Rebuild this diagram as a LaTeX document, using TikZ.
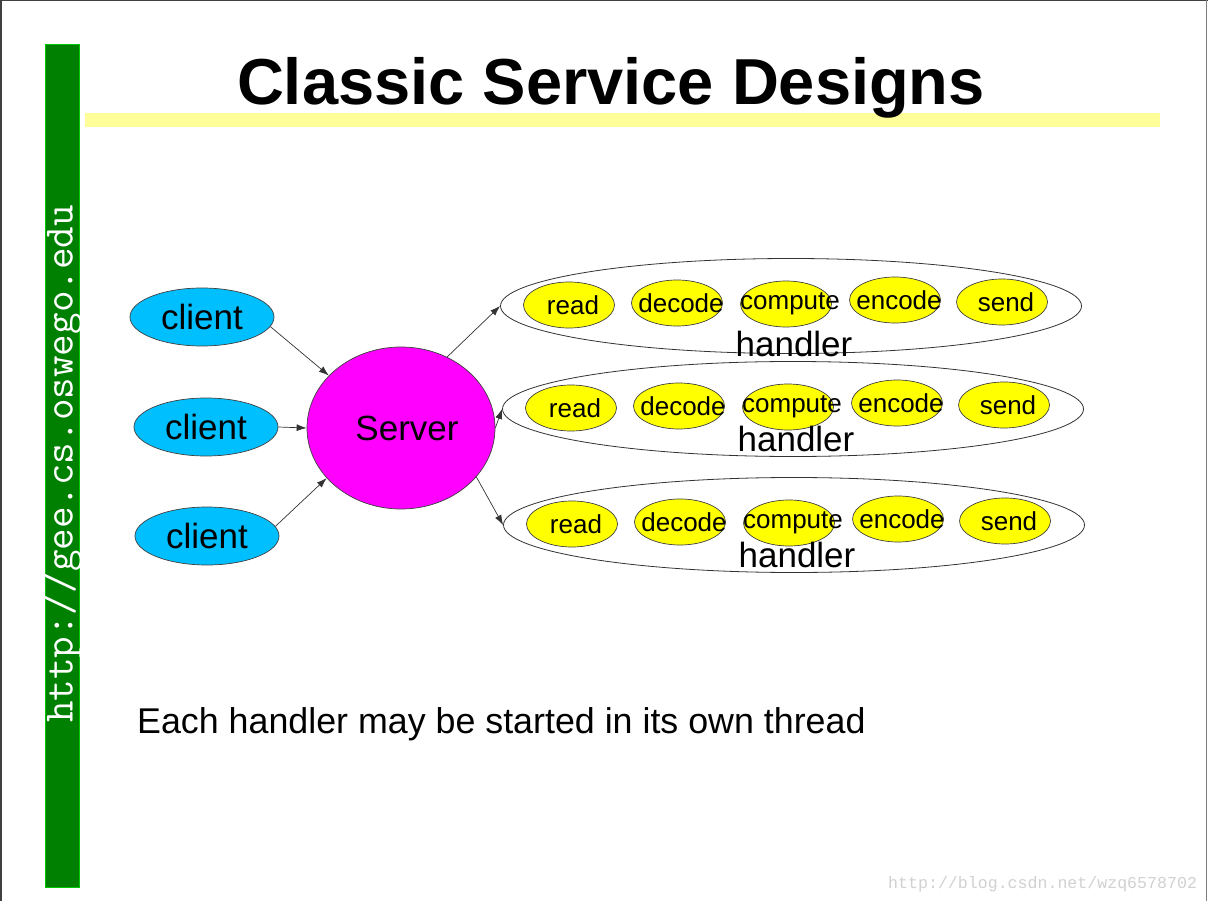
\documentclass[tikz,border=0pt]{standalone}
\usepackage{fontspec}
\setmainfont{Liberation Sans}
\newfontfamily\urlfont{Liberation Mono}
\usetikzlibrary{shapes.geometric,arrows.meta}

\definecolor{clientblue}{RGB}{0,191,255}
\definecolor{servermagenta}{RGB}{255,0,255}
\definecolor{stageyellow}{RGB}{255,255,0}
\definecolor{baryellow}{RGB}{255,255,153}
\definecolor{slidegreen}{RGB}{0,128,0}
\definecolor{edgegreen}{RGB}{0,200,0}

\tikzset{
  client/.style={ellipse, draw=black!75, line width=0.7pt, fill=clientblue,
    minimum width=144pt, minimum height=58pt, inner sep=0pt,
    font=\fontsize{35}{40}\selectfont},
  server/.style={ellipse, draw=black!75, line width=0.7pt, fill=servermagenta,
    minimum width=188pt, minimum height=162pt, inner sep=0pt,
    font=\fontsize{35}{40}\selectfont},
  handler/.style={ellipse, draw=black!80, line width=0.8pt, fill=white,
    minimum width=581pt, minimum height=95pt, inner sep=0pt},
  stage/.style={ellipse, draw=black!75, line width=0.7pt, fill=stageyellow,
    minimum width=91pt, minimum height=46pt, inner sep=0pt,
    font=\fontsize{26}{30}\selectfont},
  flow/.style={draw=black!80, line width=0.7pt, -{Latex[length=10pt,width=7pt]}}
}

\begin{document}
\begin{tikzpicture}[x=1pt,y=-1pt]
  % slide frame
  \useasboundingbox (0,0) rectangle (1208,901);
  \fill[white] (0,0) rectangle (1208,901);
  \fill[black!75] (0,0) rectangle (2,901);
  \fill[black!75] (0,0) rectangle (1208,1.5);
  \fill[black!50] (1205.5,0) rectangle (1207,901);

  % side bar with the url
  \filldraw[fill=slidegreen, draw=edgegreen, line width=1pt] (45.5,44.5) rectangle (79.5,887.5);
  \node[rotate=90, text=white, inner sep=0pt, font=\ttfamily\fontsize{41.9}{44}\selectfont] (url) at (63,464) {http://gee.cs.oswego.edu};

  % title
  \fill[baryellow] (85,113) rectangle (1160,127);
  \node[anchor=base, inner sep=0pt, font=\bfseries\fontsize{65}{70}\selectfont] (title) at (611,105) {Classic Service Designs};

  % clients and server
  \node[client] (c1) at (202,317) {client};
  \node[client] (c2) at (206,427) {client};
  \node[client] (c3) at (207,536) {client};
  \node[server] (srv) at (401,428) {\hspace{12pt}Server};

  % handlers
  \node[handler] (h1) at (791,306) {};
  \node[handler] (h2) at (793,409) {};
  \node[handler] (h3) at (794,525) {};
  \foreach \h/\dy in {h1/50,h2/42,h3/42} {
    \node[stage] (\h-read) at ([shift={(-222,-1)}]\h.center) {\makebox[0pt]{\hspace{8pt}read}};
    \node[stage] (\h-decode) at ([shift={(-114,-3)}]\h.center) {\makebox[0pt]{\hspace{8pt}decode}};
    \node[stage] (\h-compute) at ([shift={(-5,-2)}]\h.center) {\makebox[0pt]{\hspace{8pt}compute}};
    \node[stage] (\h-encode) at ([shift={(104,-6)}]\h.center) {\makebox[0pt]{\hspace{8pt}encode}};
    \node[stage] (\h-send) at ([shift={(211,-4)}]\h.center) {\makebox[0pt]{\hspace{8pt}send}};
    \node[anchor=base, inner sep=0pt, font=\fontsize{35}{40}\selectfont] (\h-label) at ([shift={(3,\dy)}]\h.center) {handler};
  }

  % connectors
  \draw[flow] (c1.-8) -- (srv.144);
  \draw[flow] (c2.east) -- (srv.west);
  \draw[flow] (c3.8) -- (srv.214);
  \draw[flow] (srv.57) -- (h1.west);
  \draw[flow] (srv.east) -- (h2.west);
  \draw[flow] (srv.-33) -- (h3.west);

  % note and watermark
  \node[anchor=base west, inner sep=0pt, font=\fontsize{35.8}{40}\selectfont] (note) at (137,733) {Each handler may be started in its own thread};
  \node[anchor=base west, inner sep=0pt, text=black!18, font=\urlfont\fontsize{16.6}{18}\selectfont] (mark) at (888,888) {http://blog.csdn.net/wzq6578702};
\end{tikzpicture}
\end{document}
